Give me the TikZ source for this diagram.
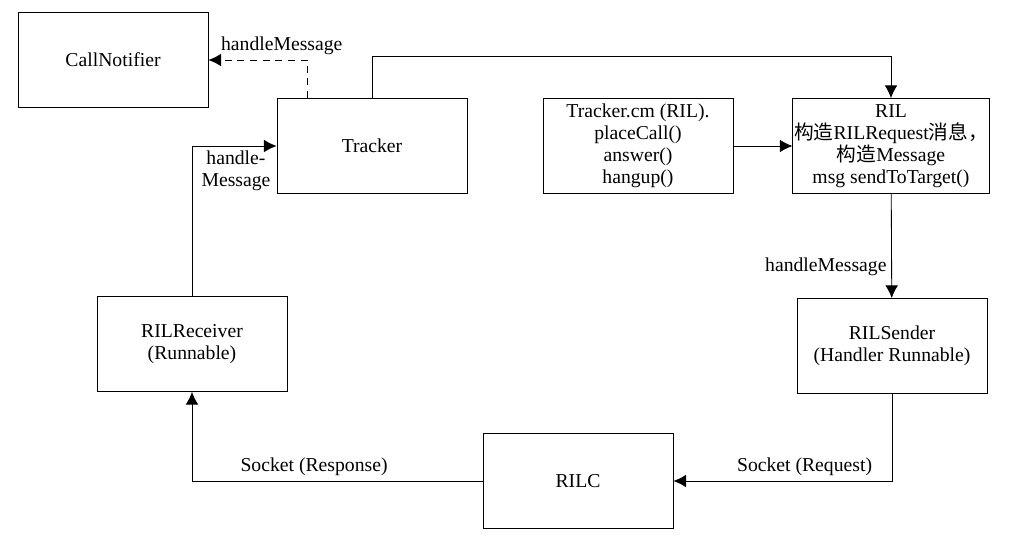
\documentclass[tikz,border=0pt]{standalone}
\usepackage{fontspec}
\setmainfont{Liberation Serif}
\newfontfamily\cjk{Noto Sans CJK SC}
\usepackage{tikz}
\usetikzlibrary{arrows,arrows.meta,positioning,calc,shapes}
\tikzset{>={Latex[length=9pt,width=9pt]}}
\tikzset{box/.style={draw,line width=.6pt,minimum width=4.75cm,minimum height=2.375cm,align=center,inner sep=1pt}}

\begin{document}
\begin{tikzpicture}[font=\fontsize{14}{15.6}\selectfont]
    \useasboundingbox (0,0) rectangle (25.45,-13.625);
    
    \node [box] (callnotifier) at (2.825,-1.5) {CallNotifier};
    \node [box] (tracker) at (9.3,-3.65) {Tracker};
    \node [box] (trackercm) at (15.95,-3.65) {Tracker.cm (RIL).\\placeCall()\\answer()\\hangup()};
    \node [box] (ril) at (22.275,-3.65) {RIL\\{\cjk 构造}RILRequest{\cjk 消息，}\\{\cjk 构造}Message\\msg sendToTarget()};
    \node [box] (rilreceiver) at (4.8,-8.6) {RILReceiver\\(Runnable)};
    \node [box] (rilsender) at (22.3,-8.65) {RILSender\\(Handler Runnable)};
    \node [box] (rilc) at (14.45,-12.025) {RILC};
    
    \begin{scope}[line width=.6pt]
    \draw[->,dash pattern=on 5pt off 4pt] ([xshift=.775cm]tracker.north west) |- node[above,pos=.63] {handleMessage} (callnotifier.east);
    \draw[->] (tracker.north) -- ++(0,1.05) -| (ril.north);
    \draw[->] (trackercm) to (ril);
    \draw[->] (ril) to node[left,pos=.7] {handleMessage} (rilsender);
    \draw[->] (rilsender.south) |- node[above,pos=.7] {Socket (Request)} (rilc.east);
    \draw[->] (rilc.west) -| node[above,pos=.29] {Socket (Response)} (rilreceiver.south);
    \draw[->] (rilreceiver.north) |- node[below,pos=.76,align=center] {handle-\\Message} (tracker.west);
    \end{scope}
    
\end{tikzpicture}
\end{document}
